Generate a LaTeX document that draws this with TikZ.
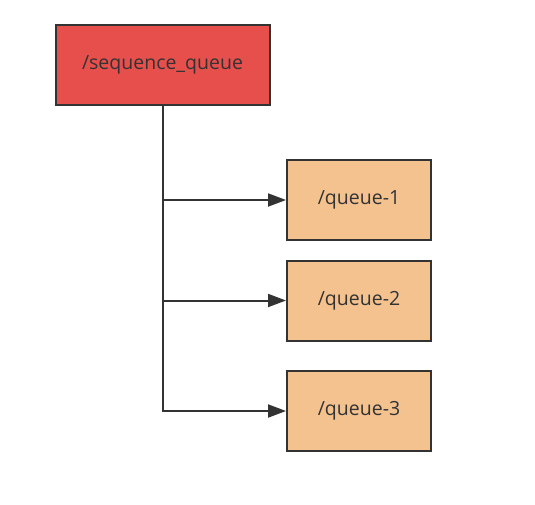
\documentclass[tikz,border=0pt]{standalone}
\usepackage{fontspec}
\setmainfont{Open Sans}
\usetikzlibrary{arrows.meta,positioning}
\definecolor{rootred}{HTML}{E74F4C}
\definecolor{queueorange}{HTML}{F4C28F}
\definecolor{linegray}{HTML}{333333}
\begin{document}
\begin{tikzpicture}[x=1pt, y=-1pt,
    box/.style={draw=linegray, line width=2pt, rectangle, inner sep=0, font=\fontsize{19.5}{23}\selectfont, text=linegray},
    link/.style={draw=linegray, line width=2pt, -{Triangle[length=18pt,width=13pt]}}]
            \useasboundingbox (0,0) rectangle (535,504);
            \node[box, fill=rootred, minimum width=214pt, minimum height=80pt] (root) at (162.5,65) {/sequence\_queue};
            \node[box, fill=queueorange, minimum width=144pt, minimum height=80pt] (q1) at (359,200) {/queue-1};
            \node[box, fill=queueorange, minimum width=144pt, minimum height=80pt] (q2) at (359,300.5) {/queue-2};
            \node[box, fill=queueorange, minimum width=144pt, minimum height=80pt] (q3) at (359,411) {/queue-3};
            \coordinate (t1) at (root.south |- q1.west);
            \coordinate (t2) at (root.south |- q2.west);
            \draw[link] (root.south) |- (q3.west);
            \draw[link] (t1) -- (q1.west);
            \draw[link] (t2) -- (q2.west);
        \end{tikzpicture}
\end{document}
